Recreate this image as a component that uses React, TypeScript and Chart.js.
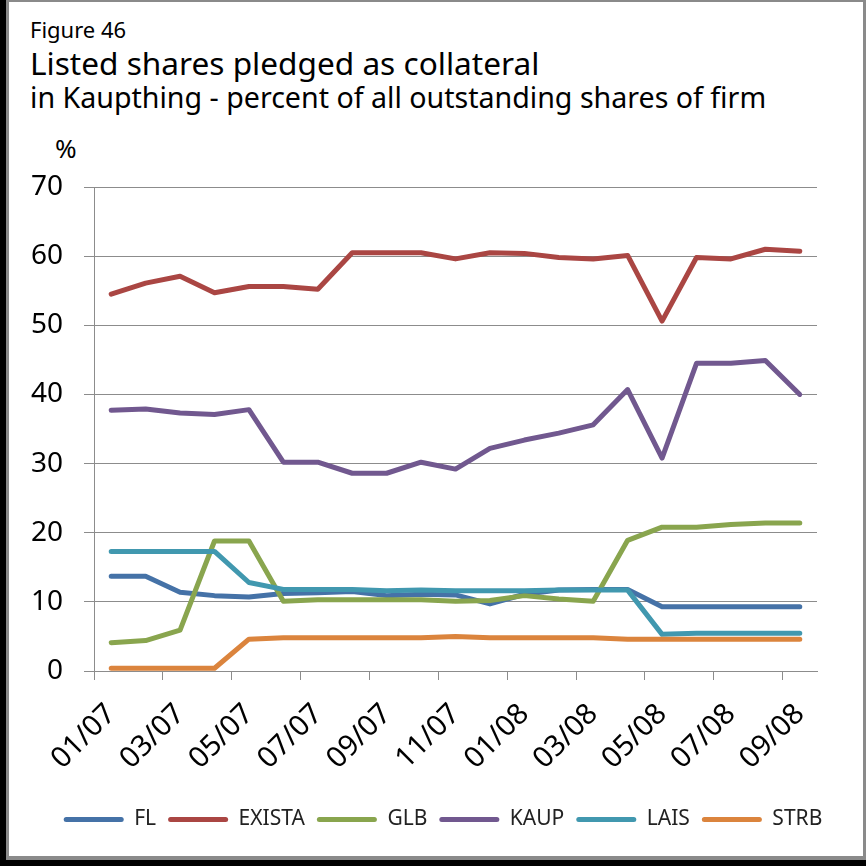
import React, { useEffect, useRef } from 'react';
import { Chart, registerables } from 'chart.js';

Chart.register(...registerables);

const FONT = "'Noto Sans', sans-serif";

const months = [
  '01/07', '02/07', '03/07', '04/07', '05/07', '06/07', '07/07', '08/07', '09/07', '10/07', '11/07', '12/07',
  '01/08', '02/08', '03/08', '04/08', '05/08', '06/08', '07/08', '08/08', '09/08',
];

const seriesNames = ['FL', 'EXISTA', 'GLB', 'KAUP', 'LAIS', 'STRB'];
const seriesColors = ['#4572A7', '#AA4643', '#89A54E', '#71588F', '#4198AF', '#DB843D'];

const FL = [13.7, 13.7, 11.4, 10.9, 10.7, 11.2, 11.3, 11.5, 10.9, 11.1, 11.0, 9.7, 11.1, 11.7, 11.8, 11.8, 9.3, 9.3, 9.3, 9.3, 9.3];
const EXISTA = [54.5, 56.1, 57.1, 54.7, 55.6, 55.6, 55.2, 60.5, 60.5, 60.5, 59.6, 60.5, 60.4, 59.8, 59.6, 60.1, 50.6, 59.8, 59.6, 61.0, 60.7];
const GLB = [4.1, 4.4, 5.9, 18.8, 18.8, 10.1, 10.3, 10.3, 10.3, 10.3, 10.1, 10.2, 10.9, 10.4, 10.1, 18.9, 20.8, 20.8, 21.2, 21.4, 21.4];
const KAUP = [37.7, 37.9, 37.3, 37.1, 37.8, 30.2, 30.2, 28.6, 28.6, 30.2, 29.2, 32.2, 33.4, 34.4, 35.6, 40.7, 30.8, 44.5, 44.5, 44.9, 40.0];
const LAIS = [17.3, 17.3, 17.3, 17.3, 12.8, 11.8, 11.8, 11.8, 11.6, 11.7, 11.6, 11.6, 11.6, 11.7, 11.7, 11.7, 5.3, 5.45, 5.45, 5.45, 5.45];
const STRB = [0.4, 0.4, 0.4, 0.4, 4.6, 4.8, 4.8, 4.8, 4.8, 4.8, 5.0, 4.8, 4.8, 4.8, 4.8, 4.6, 4.6, 4.6, 4.6, 4.6, 4.6];

const seriesValues = [FL, EXISTA, GLB, KAUP, LAIS, STRB];

const yMin = 0;
const yMax = 70;
const yStep = 10;

const GRID = '#8c8c8c';

const legendShift = {
  id: 'legendShift',
  afterLayout(chart: any) {
    if (chart.legend) {
      chart.legend.left += 30;
      chart.legend.right += 30;
    }
  },
};

export default function App() {
  const canvasRef = useRef<HTMLCanvasElement>(null);

  useEffect(() => {
    document.body.style.margin = '0';
    const canvas = canvasRef.current;
    if (!canvas) return;
    const chart = new Chart(canvas, {
      type: 'line',
      data: {
        labels: months,
        datasets: seriesNames.map((name, i) => ({
          label: name,
          data: seriesValues[i],
          borderColor: seriesColors[i],
          backgroundColor: seriesColors[i],
          borderWidth: 5,
          pointRadius: 0,
          pointHoverRadius: 0,
          tension: 0,
          borderCapStyle: 'round' as const,
          borderJoinStyle: 'round' as const,
          order: seriesNames.length - i,
        })),
      },
      options: {
        animation: false,
        responsive: true,
        maintainAspectRatio: false,
        layout: { padding: { top: 47, right: 46, bottom: 16, left: 0 } },
        plugins: {
          title: { display: false },
          tooltip: { enabled: false },
          legend: {
            display: true,
            position: 'bottom',
            labels: {
              boxWidth: 60,
              boxHeight: 5,
              padding: 12,
              color: '#222',
              font: { family: FONT, size: 21 },
              generateLabels: (c: any) =>
                Chart.defaults.plugins.legend.labels
                  .generateLabels(c)
                  .map((l: any) => ({ ...l, fillStyle: l.strokeStyle, lineWidth: 0, borderRadius: 2.5 }))
                  .sort((a: any, b: any) => a.datasetIndex - b.datasetIndex),
            },
          },
        },
        scales: {
          x: {
            offset: true,
            grid: {
              offset: true,
              drawOnChartArea: false,
              tickLength: 9,
              lineWidth: 1,
              color: (ctx: any) => (ctx.index % 2 === 0 ? GRID : 'rgba(0,0,0,0)'),
            },
            border: { color: GRID, width: 1 },
            ticks: {
              autoSkip: false,
              minRotation: 45,
              maxRotation: 45,
              padding: 17,
              color: '#000',
              font: { family: FONT, size: 29 },
              callback: function (this: any, v: any, i: number) {
                return i % 2 === 0 ? this.getLabelForValue(v) : '';
              },
            },
            afterFit: (s: any) => {
              s.height = 126;
            },
          },
          y: {
            min: yMin,
            max: yMax,
            grid: { color: GRID, lineWidth: 1, tickLength: 10 },
            border: { color: GRID, width: 1 },
            ticks: {
              stepSize: yStep,
              padding: 21,
              color: '#000',
              font: { family: FONT, size: 28 },
            },
            afterFit: (s: any) => {
              s.width = 85;
            },
          },
        },
      },
      plugins: [legendShift],
    });
    return () => chart.destroy();
  }, []);

  const textBase: React.CSSProperties = {
    position: 'absolute',
    fontFamily: FONT,
    color: '#000',
    lineHeight: 1,
    whiteSpace: 'nowrap',
    margin: 0,
  };

  return (
    <div style={{ position: 'fixed', left: 0, top: 0, width: 866, height: 866, background: '#000', overflow: 'hidden' }}>
      <div style={{ position: 'absolute', left: 6, top: 0, width: 860, height: 860, background: '#8a8a8a' }} />
      <div style={{ position: 'absolute', left: 9, top: 2, width: 854, height: 854, background: '#fff' }}>
        <div style={{ ...textBase, left: 21, top: 15.5, fontSize: 22 }}>Figure 46</div>
        <div style={{ ...textBase, left: 21, top: 45, fontSize: 31.6 }}>Listed shares pledged as collateral</div>
        <div style={{ ...textBase, left: 21, top: 80.5, fontSize: 28.6 }}>in Kaupthing - percent of all outstanding shares of firm</div>
        <div style={{ ...textBase, left: 46, top: 133, fontSize: 26 }}>%</div>
        <div style={{ position: 'absolute', left: 0, top: 138, width: 854, height: 716 }}>
          <canvas ref={canvasRef} />
        </div>
      </div>
    </div>
  );
}
